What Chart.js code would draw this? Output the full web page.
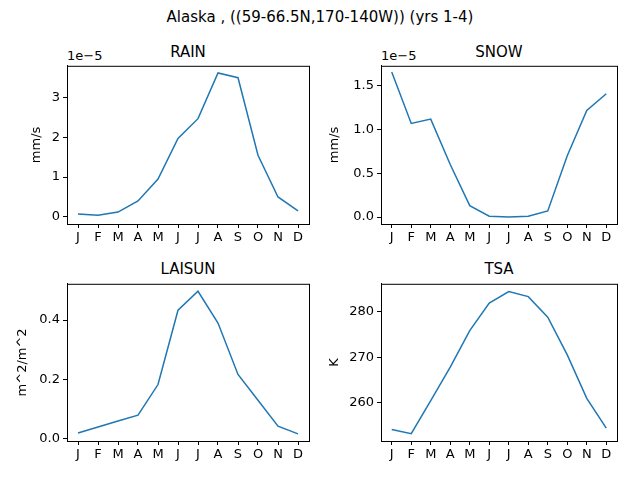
<!DOCTYPE html>
<html>
<head>
<script src="https://cdn.jsdelivr.net/npm/chart.js@4/dist/chart.umd.min.js"></script>
<style>
body{margin:0;width:640px;height:480px;background:#fff;position:relative;font-family:"DejaVu Sans",sans-serif;overflow:hidden}
.t{position:absolute;font-size:15px;color:#000;white-space:nowrap}
canvas{position:absolute}
</style>
</head>
<body>
<div class="t" style="left:0;width:640px;text-align:center;top:8px">Alaska , ((59-66.5N,170-140W)) (yrs 1-4)</div>
<div class="t" style="left:67px;width:242px;text-align:center;top:43px">RAIN</div>
<div class="t" style="left:381px;width:236px;text-align:center;top:43px">SNOW</div>
<div class="t" style="left:67px;width:242px;text-align:center;top:260px">LAISUN</div>
<div class="t" style="left:381px;width:236px;text-align:center;top:260px">TSA</div>
<div class="t" style="left:67px;top:48px;font-size:13px">1e−5</div>
<div class="t" style="left:381px;top:48px;font-size:13px">1e−5</div>
<canvas id="c1"></canvas><canvas id="c2"></canvas><canvas id="c3"></canvas><canvas id="c4"></canvas>
<script>
const months = ["J","F","M","A","M","J","J","A","S","O","N","D"];
// RAIN and SNOW in units of 1e-5 mm/s
const rain = [0.07,0.04,0.12,0.4,0.95,1.97,2.47,3.62,3.5,1.55,0.5,0.15];
const snow = [1.66,1.07,1.12,0.6,0.13,0.01,0.0,0.01,0.07,0.7,1.22,1.41];
const laisun = [0.02,0.04,0.06,0.08,0.183,0.433,0.497,0.39,0.217,0.13,0.043,0.017];
const tsa = [254.2,253.3,260.5,267.8,275.8,281.8,284.3,283.2,278.7,270.5,261,254.5];

Chart.defaults.font.family = '"DejaVu Sans", sans-serif';
Chart.defaults.font.size = 13;
Chart.defaults.color = '#000';

const frame = {
  id: 'frame',
  afterDraw(c) {
    const a = c.chartArea, x = c.ctx;
    x.save(); x.strokeStyle = '#000'; x.lineWidth = 1;
    x.strokeRect(a.left + 0.5, a.top + 0.5, a.right - a.left, a.bottom - a.top);
    x.restore();
  }
};

function make(id, vals, left, top, w, h, ymin, ymax, step, dec, ytitle, yw) {
  const el = document.getElementById(id);
  const padTop = 10;
  el.style.left = (left - yw) + 'px';
  el.style.top = (top - padTop) + 'px';
  el.style.width = (w + yw + 4) + 'px';
  el.style.height = (h + padTop + 28) + 'px';
  el.width = w + yw + 4; el.height = h + padTop + 28;
  new Chart(el, {
    type: 'line',
    data: { datasets: [{ data: vals.map((v, i) => ({ x: i, y: v })), borderColor: '#1f77b4', borderWidth: 1.5, pointRadius: 0, tension: 0 }] },
    options: {
      responsive: false, animation: false,
      layout: { padding: { top: padTop, right: 4, left: 0, bottom: 0 } },
      plugins: { legend: { display: false }, tooltip: { enabled: false } },
      scales: {
        x: { type: 'linear', min: -0.55, max: 11.55,
             afterBuildTicks: s => { s.ticks = months.map((m, i) => ({ value: i })); },
             ticks: { callback: v => months[v], maxRotation: 0, autoSkip: false, padding: 2 },
             grid: { drawOnChartArea: false, tickLength: 4, color: '#000' }, border: { color: '#000' },
             afterFit: s => { s.height = 28; } },
        y: { min: ymin, max: ymax,
             afterBuildTicks: s => { const t = []; for (let v = Math.ceil(ymin / step) * step; v <= ymax + 1e-9; v += step) t.push({ value: +v.toFixed(6) }); s.ticks = t; },
             ticks: { callback: v => v.toFixed(dec), padding: 3 },
             title: { display: true, text: ytitle, padding: 2 },
             grid: { drawOnChartArea: false, tickLength: 4, color: '#000' }, border: { color: '#000' },
             afterFit: s => { s.width = yw; } }
      }
    },
    plugins: [frame]
  });
}

make('c1', rain, 67, 65, 242, 159, -0.18, 3.8, 1, 0, 'mm/s', 40);
make('c2', snow, 381, 65, 236, 159, -0.08, 1.73, 0.5, 1, 'mm/s', 56);
make('c3', laisun, 67, 283, 242, 158, -0.007, 0.522, 0.2, 1, 'm^2/m^2', 54);
make('c4', tsa, 381, 283, 236, 158, 251.7, 286, 10, 0, 'K', 56);
</script>
</body>
</html>
